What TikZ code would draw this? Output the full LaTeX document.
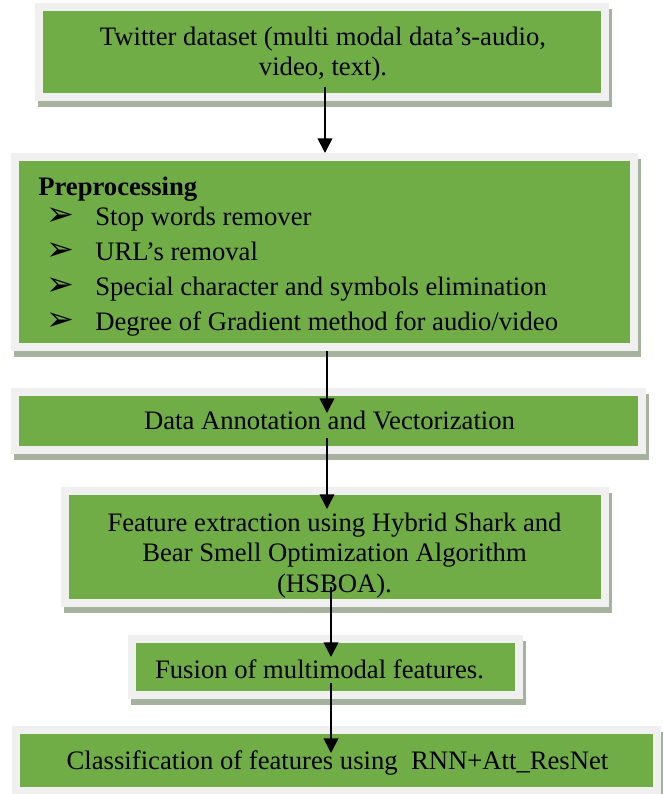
\documentclass[tikz,border=0pt]{standalone}
\usepackage{fontspec}
\setmainfont{Liberation Serif}
\newfontfamily\dingfont{DejaVu Sans}
\usetikzlibrary{arrows.meta,fit,backgrounds}

\definecolor{boxgreen}{RGB}{112,173,71}
\definecolor{rimgray}{RGB}{240,240,240}
\definecolor{shadowgray}{RGB}{166,178,158}

\tikzset{
  box/.style={draw=rimgray, line width=6pt, fill=boxgreen, inner sep=3pt},
  boxtext/.style={inner sep=0pt, font=\fontsize{20}{23}\selectfont, anchor=base},
  flow/.style={line width=1.3pt, -{Triangle[length=11pt,width=11pt]}},
}
% bullet of the preprocessing list
\newcommand\prebullet{\hspace*{6pt}\makebox[36.75pt][l]{\dingfont\fontsize{25}{25}\selectfont ➢}}
% solid shadow offset to the lower right of a box
\newcommand\castshadow[1]{\fill[shadowgray] ([shift={(3,6)}]#1.north west) rectangle ([shift={(3,6)}]#1.south east);}

\begin{document}
\begin{tikzpicture}[x=0.75pt,y=-0.75pt]
\useasboundingbox (0,0) rectangle (663,794);

% boxes (green areas given by their corners)
\node[box, fit={(43,11) (601,93)}]   (b1) {};
\node[box, fit={(19,161) (630,343)}] (b2) {};
\node[box, fit={(19,396) (638,446)}] (b3) {};
\node[box, fit={(69,495) (601,599)}] (b4) {};
\node[box, fit={(136,643) (515,691)}] (b5) {};
\node[box, fit={(20,734) (653,787)}] (b6) {};

\begin{scope}[on background layer]
  \fill[white] (0,0) rectangle (663,794);
  \castshadow{b1}\castshadow{b2}\castshadow{b3}
  \castshadow{b4}\castshadow{b5}\castshadow{b6}
\end{scope}

% texts
\node[boxtext] (t1) at (323,45) {\begin{tabular}[t]{@{}c@{}}Twitter dataset (multi modal data’s-audio,\\ video, text).\end{tabular}};
\node[boxtext, anchor=base west] (t2) at (38,195) {\begin{tabular}[t]{@{}l@{}}\textbf{Preprocessing}\\
  \prebullet Stop words remover\\[3.3pt]
  \prebullet URL’s removal\\[3.3pt]
  \prebullet Special character and symbols elimination\\[3.3pt]
  \prebullet Degree of Gradient method for audio/video\end{tabular}};
\node[boxtext] (t3) at (329.5,429) {Data Annotation and Vectorization};
\node[boxtext] (t4) at (334.5,531) {\begin{tabular}[t]{@{}c@{}}Feature extraction using Hybrid Shark and\\ Bear Smell Optimization Algorithm\\ (HSBOA).\end{tabular}};
\node[boxtext] (t5) at (319.5,678) {Fusion of multimodal features.};
\node[boxtext] (t6) at (337.5,769) {Classification of features using\ \ RNN+Att\_ResNet};

% connector ends
\coordinate (a1s) at (325,87);  \coordinate (a1e) at (325,153);
\coordinate (a2s) at (327,351); \coordinate (a2e) at (327,413);
\coordinate (a3s) at (327,438); \coordinate (a3e) at (327,509);
\coordinate (a4s) at (331,587); \coordinate (a4e) at (331,657);
\coordinate (a5s) at (331,683); \coordinate (a5e) at (331,753);

\draw[flow] (a1s) -- (a1e);
\draw[flow] (a2s) -- (a2e);
\draw[flow] (a3s) -- (a3e);
\draw[flow] (a4s) -- (a4e);
\draw[flow] (a5s) -- (a5e);
\end{tikzpicture}
\end{document}
